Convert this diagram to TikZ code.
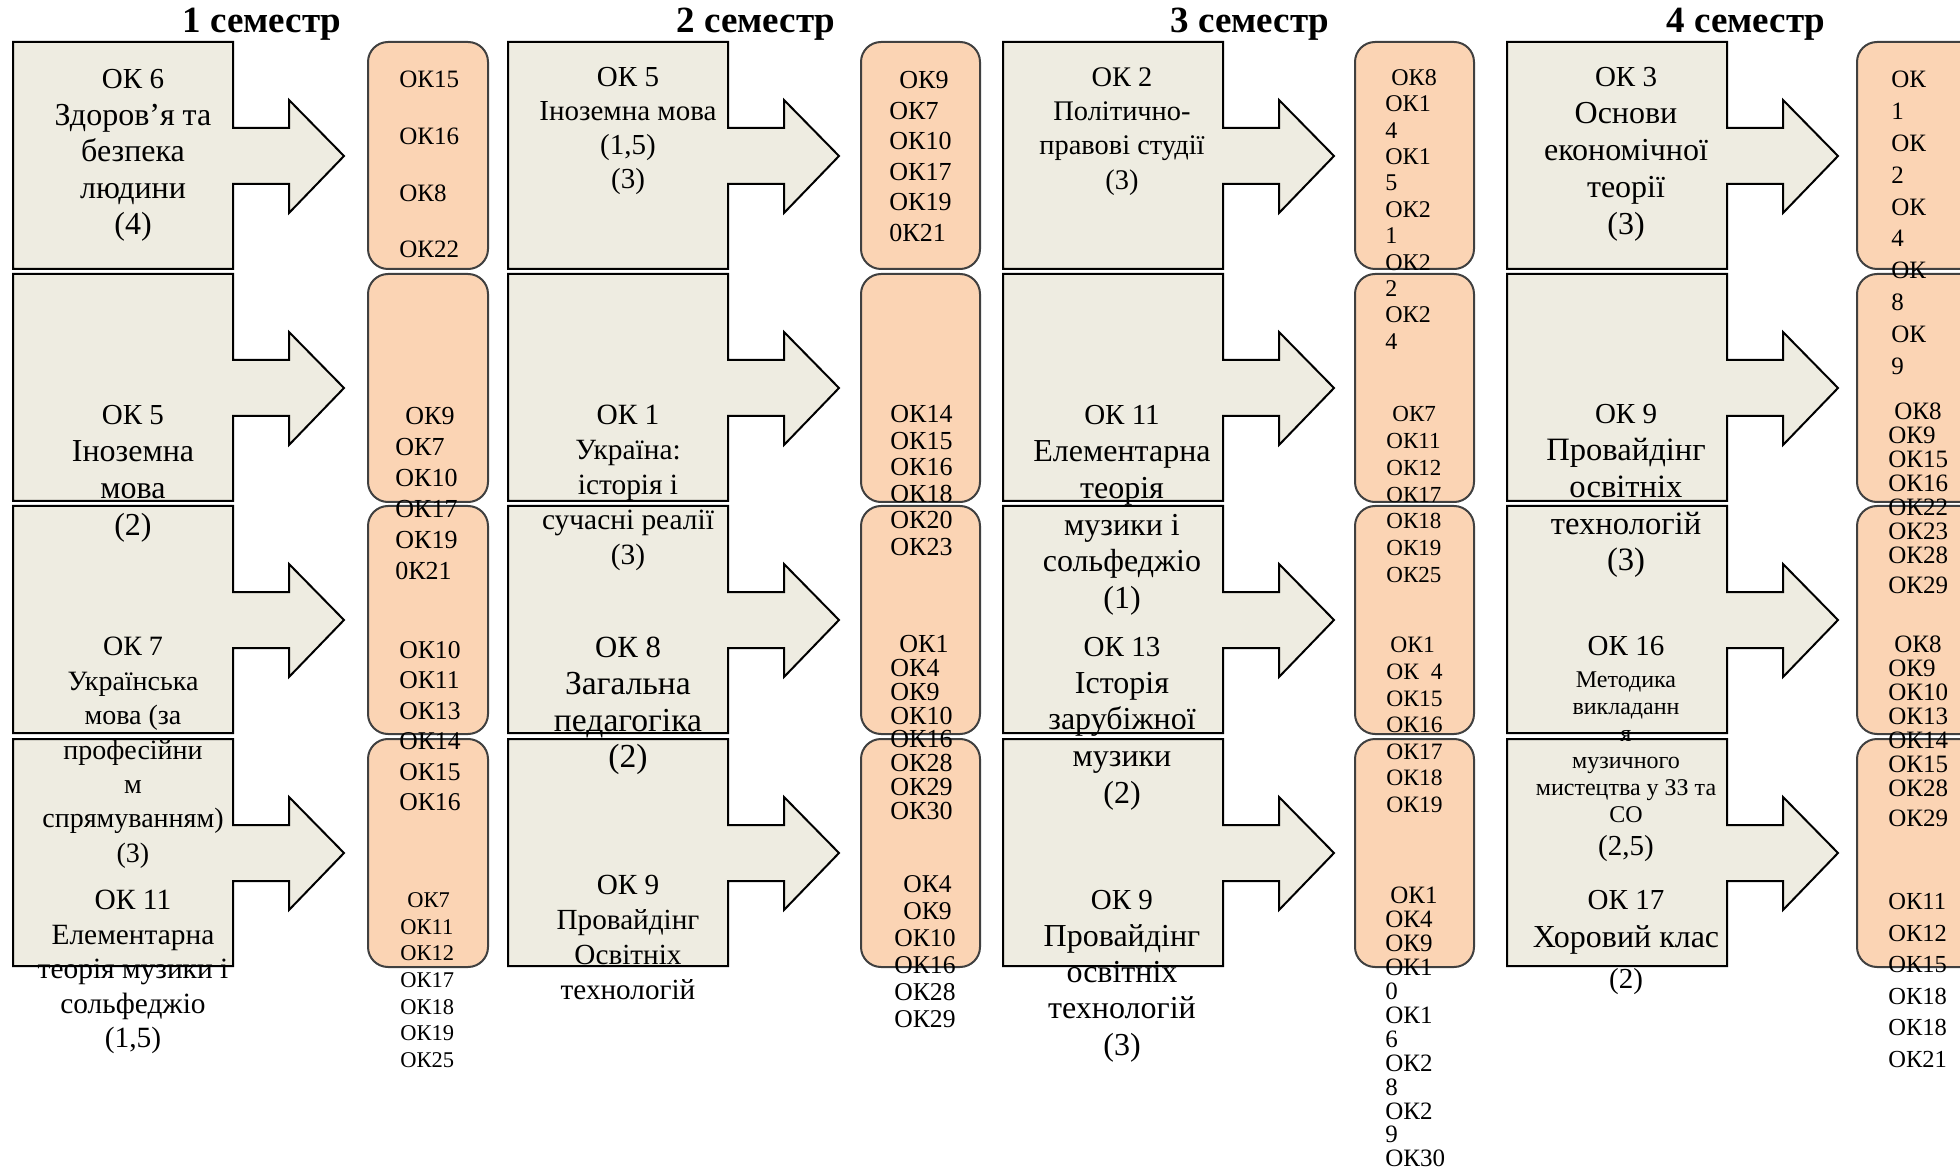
\documentclass[tikz,border=0pt]{standalone}
\usepackage{fontspec}
\setmainfont{Liberation Serif}
\usepackage{tikz}
\usepackage{xcolor}
\definecolor{subjfill}{HTML}{EEECE1}
\definecolor{compfill}{HTML}{FBD4B4}
\newcommand{\okline}[1]{{\fontsize{14.5}{18}\selectfont #1}}

\begin{document}
\begin{tikzpicture}[x=0.5pt,y=-0.5pt,
  subj/.style={draw=black,fill=subjfill,line width=1pt},
  comp/.style={draw=black!75,fill=compfill,line width=1pt,rounded corners=10pt},
  sem/.style={font=\fontsize{18.5}{20}\selectfont\bfseries,anchor=base,inner sep=0pt},
  fs/.style 2 args={font=\fontsize{#1}{#2}\selectfont},
  subjtext/.style={align=center,anchor=north,inner sep=0pt},
  comptext/.style={align=left,anchor=north west,inner sep=0pt}]
\useasboundingbox (0,0) rectangle (1960,1171);
\clip (0,0) rectangle (1960,1171);

% semesters
\node[sem] (t1) at (262,33) {1 семестр};
\node[sem] (t2) at (756,33) {2 семестр};
\node[sem] (t3) at (1250,33) {3 семестр};
\node[sem] (t4) at (1746,33) {4 семестр};

% course boxes with arrows
\draw[subj] (13,42) -- ++(220,0) -- ++(0,86) -- ++(56,0) -- ++(0,-28) -- ++(55,56) -- ++(-55,57) -- ++(0,-29) -- ++(-56,0) -- ++(0,85) -- ++(-220,0) -- cycle;
\draw[subj] (13,274) -- ++(220,0) -- ++(0,86) -- ++(56,0) -- ++(0,-28) -- ++(55,56) -- ++(-55,57) -- ++(0,-29) -- ++(-56,0) -- ++(0,85) -- ++(-220,0) -- cycle;
\draw[subj] (13,506) -- ++(220,0) -- ++(0,86) -- ++(56,0) -- ++(0,-28) -- ++(55,56) -- ++(-55,57) -- ++(0,-29) -- ++(-56,0) -- ++(0,85) -- ++(-220,0) -- cycle;
\draw[subj] (13,739) -- ++(220,0) -- ++(0,86) -- ++(56,0) -- ++(0,-28) -- ++(55,56) -- ++(-55,57) -- ++(0,-29) -- ++(-56,0) -- ++(0,85) -- ++(-220,0) -- cycle;
\draw[subj] (508,42) -- ++(220,0) -- ++(0,86) -- ++(56,0) -- ++(0,-28) -- ++(55,56) -- ++(-55,57) -- ++(0,-29) -- ++(-56,0) -- ++(0,85) -- ++(-220,0) -- cycle;
\draw[subj] (508,274) -- ++(220,0) -- ++(0,86) -- ++(56,0) -- ++(0,-28) -- ++(55,56) -- ++(-55,57) -- ++(0,-29) -- ++(-56,0) -- ++(0,85) -- ++(-220,0) -- cycle;
\draw[subj] (508,506) -- ++(220,0) -- ++(0,86) -- ++(56,0) -- ++(0,-28) -- ++(55,56) -- ++(-55,57) -- ++(0,-29) -- ++(-56,0) -- ++(0,85) -- ++(-220,0) -- cycle;
\draw[subj] (508,739) -- ++(220,0) -- ++(0,86) -- ++(56,0) -- ++(0,-28) -- ++(55,56) -- ++(-55,57) -- ++(0,-29) -- ++(-56,0) -- ++(0,85) -- ++(-220,0) -- cycle;
\draw[subj] (1003,42) -- ++(220,0) -- ++(0,86) -- ++(56,0) -- ++(0,-28) -- ++(55,56) -- ++(-55,57) -- ++(0,-29) -- ++(-56,0) -- ++(0,85) -- ++(-220,0) -- cycle;
\draw[subj] (1003,274) -- ++(220,0) -- ++(0,86) -- ++(56,0) -- ++(0,-28) -- ++(55,56) -- ++(-55,57) -- ++(0,-29) -- ++(-56,0) -- ++(0,85) -- ++(-220,0) -- cycle;
\draw[subj] (1003,506) -- ++(220,0) -- ++(0,86) -- ++(56,0) -- ++(0,-28) -- ++(55,56) -- ++(-55,57) -- ++(0,-29) -- ++(-56,0) -- ++(0,85) -- ++(-220,0) -- cycle;
\draw[subj] (1003,739) -- ++(220,0) -- ++(0,86) -- ++(56,0) -- ++(0,-28) -- ++(55,56) -- ++(-55,57) -- ++(0,-29) -- ++(-56,0) -- ++(0,85) -- ++(-220,0) -- cycle;
\draw[subj] (1507,42) -- ++(220,0) -- ++(0,86) -- ++(56,0) -- ++(0,-28) -- ++(55,56) -- ++(-55,57) -- ++(0,-29) -- ++(-56,0) -- ++(0,85) -- ++(-220,0) -- cycle;
\draw[subj] (1507,274) -- ++(220,0) -- ++(0,86) -- ++(56,0) -- ++(0,-28) -- ++(55,56) -- ++(-55,57) -- ++(0,-29) -- ++(-56,0) -- ++(0,85) -- ++(-220,0) -- cycle;
\draw[subj] (1507,506) -- ++(220,0) -- ++(0,86) -- ++(56,0) -- ++(0,-28) -- ++(55,56) -- ++(-55,57) -- ++(0,-29) -- ++(-56,0) -- ++(0,85) -- ++(-220,0) -- cycle;
\draw[subj] (1507,739) -- ++(220,0) -- ++(0,86) -- ++(56,0) -- ++(0,-28) -- ++(55,56) -- ++(-55,57) -- ++(0,-29) -- ++(-56,0) -- ++(0,85) -- ++(-220,0) -- cycle;

% competence boxes
\draw[comp] (368,42) rectangle (488,269);
\draw[comp] (368,274) rectangle (488,502);
\draw[comp] (368,506) rectangle (488,734);
\draw[comp] (368,739) rectangle (488,967);
\draw[comp] (861,42) rectangle (980,269);
\draw[comp] (861,274) rectangle (980,502);
\draw[comp] (861,506) rectangle (980,734);
\draw[comp] (861,739) rectangle (980,967);
\draw[comp] (1355,42) rectangle (1474,269);
\draw[comp] (1355,274) rectangle (1474,502);
\draw[comp] (1355,506) rectangle (1474,734);
\draw[comp] (1355,739) rectangle (1474,967);
\draw[comp] (1857,42) rectangle (1980,269);
\draw[comp] (1857,274) rectangle (1980,502);
\draw[comp] (1857,506) rectangle (1980,734);
\draw[comp] (1857,739) rectangle (1980,967);

% 1 semester
\node[subjtext,fs={16}{18.3}] (s1a) at (133,69) {\okline{ОК 6}\\Здоров’я та\\безпека\\людини\\(4)};
\node[subjtext,fs={16}{18.5}] (s1b) at (133,405) {\okline{ОК 5}\\Іноземна\\мова\\(2)};
\node[subjtext,fs={14}{17.2}] (s1c) at (133,637) {ОК 7\\Українська\\мова (за\\професійни\\м\\спрямуванням)\\(3)};
\node[subjtext,fs={14.7}{17.2}] (s1d) at (133,890) {ОК 11\\Елементарна\\теорія музики і\\сольфеджіо\\(1,5)};
\node[comptext,fs={12.5}{28.3}] (k1a) at (399,71) {ОК15\\ОК16\\ОК8\\ОК22};
\node[comptext,fs={13}{15.5}] (k1b) at (395,407) {\hspace{5pt}ОК9\\ОК7\\ОК10\\ОК17\\ОК19\\0К21};
\node[comptext,fs={12.8}{15.25}] (k1c) at (399,641) {ОК10\\ОК11\\ОК13\\ОК14\\ОК15\\ОК16};
\node[comptext,fs={11.25}{13.35}] (k1d) at (400,892) {\hspace{3.5pt}ОК7\\ОК11\\ОК12\\ОК17\\ОК18\\ОК19\\ОК25};

% 2 semester
\node[subjtext,fs={14.5}{17}] (s2a) at (628,67) {ОК 5\\Іноземна мова\\(1,5)\\(3)};
\node[subjtext,fs={14.7}{17.5}] (s2b) at (628,405) {ОК 1\\Україна:\\історія і\\сучасні реалії\\(3)};
\node[subjtext,fs={16.8}{18.3}] (s2c) at (628,637) {{\fontsize{15.4}{18}\selectfont ОК 8}\\Загальна\\педагогіка\\(2)};
\node[subjtext,fs={14.6}{17.5}] (s2d) at (628,875) {ОК 9\\Провайдінг\\Освітніх\\технологій};
\node[comptext,fs={13}{15.25}] (k2a) at (889,71) {\hspace{5pt}ОК9\\ОК7\\ОК10\\ОК17\\ОК19\\0К21};
\node[comptext,fs={13}{13.25}] (k2b) at (890,405) {ОК14\\ОК15\\ОК16\\ОК18\\ОК20\\ОК23};
\node[comptext,fs={13}{11.9}] (k2c) at (890,635) {\hspace{4.5pt}ОК1\\ОК4\\ОК9\\ОК10\\ОК16\\ОК28\\ОК29\\ОК30};
\node[comptext,fs={12.8}{13.5}] (k2d) at (894,875) {\hspace{4.5pt}ОК4\\\hspace{4.5pt}ОК9\\ОК10\\ОК16\\ОК28\\ОК29};

% 3 semester
\node[subjtext,fs={14.2}{17.2}] (s3a) at (1122,67) {ОК 2\\Політично-\\правові студії\\(3)};
\node[subjtext,fs={16}{18.4}] (s3b) at (1122,405) {\okline{ОК 11}\\Елементарна\\теорія\\музики і\\сольфеджіо\\(1)};
\node[subjtext,fs={16}{18.3}] (s3c) at (1122,637) {\okline{ОК 13}\\Історія\\зарубіжної\\музики\\(2)};
\node[subjtext,fs={16}{18.2}] (s3d) at (1122,890) {\okline{ОК 9}\\Провайдінг\\освітніх\\технологій\\(3)};
\node[comptext,fs={12}{13.2}] (k3a) at (1385,69) {\hspace{3pt}ОК8\\ОК1\\4\\ОК1\\5\\ОК2\\1\\ОК2\\2\\ОК2\\4};
\node[comptext,fs={11.5}{13.4}] (k3b) at (1386,406) {\hspace{3pt}ОК7\\ОК11\\ОК12\\ОК17\\ОК18\\ОК19\\ОК25};
\node[comptext,fs={11.75}{13.3}] (k3c) at (1386,637) {\hspace{2pt}ОК1\\ОК\ \ 4\\ОК15\\ОК16\\ОК17\\ОК18\\ОК19};
\node[comptext,fs={12.5}{11.95}] (k3d) at (1385,887) {\hspace{2.5pt}ОК1\\ОК4\\ОК9\\ОК1\\0\\ОК1\\6\\ОК2\\8\\ОК2\\9\\ОК30};

% 4 semester
\node[subjtext,fs={16}{18.5}] (s4a) at (1626,67) {\okline{ОК 3}\\Основи\\економічної\\теорії\\(3)};
\node[subjtext,fs={16.3}{18.4}] (s4b) at (1626,404) {\okline{ОК 9}\\Провайдінг\\освітніх\\технологій\\(3)};
\node[subjtext,fs={14.5}{18}] (s4c) at (1626,636) {ОК 16};
\node[subjtext,fs={12}{13.5}] (s4d) at (1626,671) {Методика\\викладанн\\я\\музичного\\мистецтва у ЗЗ та\\СО};
\node[subjtext,fs={14.5}{18}] (s4e) at (1626,835) {(2,5)};
\node[subjtext,fs={14.5}{18.75}] (s4f) at (1626,890) {ОК 17\\{\fontsize{16}{18.75}\selectfont Хоровий клас}\\[2pt](2)};
\node[comptext,fs={12.5}{15.9}] (k4a) at (1891,71) {ОК\\1\\ОК\\2\\ОК\\4\\ОК\\8\\ОК\\9};
\node[comptext,fs={12.5}{12}] (k4b) at (1888,402) {\hspace{3pt}ОК8\\ОК9\\ОК15\\ОК16\\ОК22\\ОК23\\ОК28\\[3pt]ОК29};
\node[comptext,fs={12.5}{12}] (k4c) at (1888,635) {\hspace{3pt}ОК8\\ОК9\\ОК10\\ОК13\\ОК14\\ОК15\\ОК28\\[3pt]ОК29};
\node[comptext,fs={12.25}{15.75}] (k4d) at (1888,893) {ОК11\\ОК12\\ОК15\\ОК18\\ОК18\\ОК21};

\end{tikzpicture}
\end{document}
